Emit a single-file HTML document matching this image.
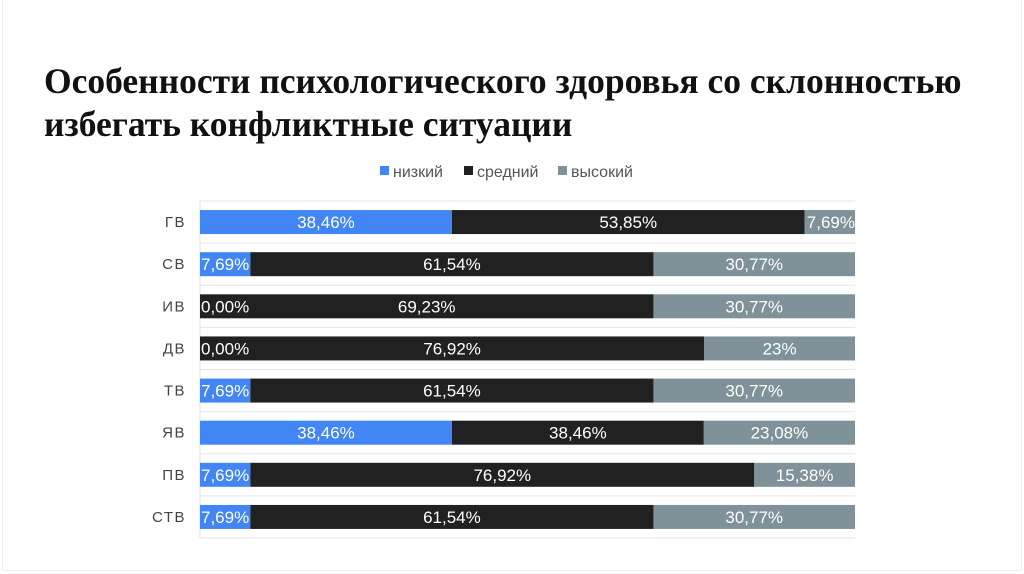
<!DOCTYPE html>
<html><head><meta charset="utf-8"><style>
body{margin:0;width:1024px;height:574px;background:#fff;overflow:hidden;font-family:"Liberation Sans",sans-serif}
#frame{position:absolute;left:2px;top:0;width:1018px;height:570px;border:1px solid #f0f0f0;border-top:none}
h1{position:absolute;left:44px;top:60px;margin:0;font-family:"Liberation Serif",serif;font-weight:bold;font-size:35.5px;line-height:43px;color:#111;white-space:nowrap}
</style></head><body>
<div id="frame"></div>
<h1>Особенности психологического здоровья со склонностью<br>избегать конфликтные ситуации</h1>
<svg id="c" width="1024" height="574" style="position:absolute;left:0;top:0"></svg>
<script>
const categories=["ГВ","СВ","ИВ","ДВ","ТВ","ЯВ","ПВ","СТВ"];
const low=[38.46,7.69,0,0,7.69,38.46,7.69,7.69];
const mid=[53.85,61.54,69.23,76.92,61.54,38.46,76.92,61.54];
const high=[7.69,30.77,30.77,23,30.77,23.08,15.38,30.77];
const lowLabels=["38,46%","7,69%","0,00%","0,00%","7,69%","38,46%","7,69%","7,69%"];
const midLabels=["53,85%","61,54%","69,23%","76,92%","61,54%","38,46%","76,92%","61,54%"];
const highLabels=["7,69%","30,77%","30,77%","23%","30,77%","23,08%","15,38%","30,77%"];
const seriesNames=["низкий","средний","высокий"];
const colors=["#4285f4","#212121","#7f9199"];
const NS="http://www.w3.org/2000/svg",svg=document.getElementById('c');
function mk(t,a,p){const e=document.createElementNS(NS,t);for(const k in a)e.setAttribute(k,a[k]);(p||svg).appendChild(e);return e;}
const x0=200,x1=855,y0=201,y1=538,band=(y1-y0)/categories.length,bh=24;
const xs=v=>x0+(x1-x0)*v/100;
const yc=i=>y0+band*(i+0.5);
for(let i=0;i<=categories.length;i++){const g=mk('line',{x1:x0,x2:x1,y1:y0+band*i,y2:y0+band*i,stroke:'#e6e6e6','stroke-width':1});

}
const ax=mk('line',{x1:x0,x2:x0,y1:y0,y2:y1,stroke:'#e0e0e0'});


const series=[low,mid,high],labs=[lowLabels,midLabels,highLabels];
const pending=[];
categories.forEach((c,i)=>{
 const t=mk('text',{x:186,y:yc(i)+5,'text-anchor':'end','font-size':15,fill:'#444','letter-spacing':'1.5'});t.textContent=c;
 
 
 const tot=low[i]+mid[i]+high[i];let acc=0;
 series.forEach((s,j)=>{
  const a=xs(acc/tot*100),b=xs((acc+s[i])/tot*100);acc+=s[i];
  if(b>a){const r=mk('rect',{x:a,y:yc(i)-bh/2,width:b-a,height:bh,fill:colors[j]});
  
  }
  pending.push([a,b,i,j]);
 });
});
pending.forEach(([a,b,i,j])=>{
  const w=b-a;const small=w<60;
  const x=small?(j==0?a+1:b):(a+b)/2;const anc=small?(j==0?'start':'end'):'middle';
  const lt=mk('text',{x:x,y:yc(i)+6,'text-anchor':anc,'font-size':17,fill:'#fff'});
  lt.textContent=labs[j][i];
  
  
});
const lg=[[380,"низкий"],[464,"средний"],[558,"высокий"]];
lg.forEach((l,j)=>{const r=mk('rect',{x:l[0],y:166,width:9,height:9,fill:colors[j]});


const t=mk('text',{x:l[0]+13,y:177,'font-size':16,fill:'#555'});t.textContent=seriesNames[j];

});
</script>
</body></html>
